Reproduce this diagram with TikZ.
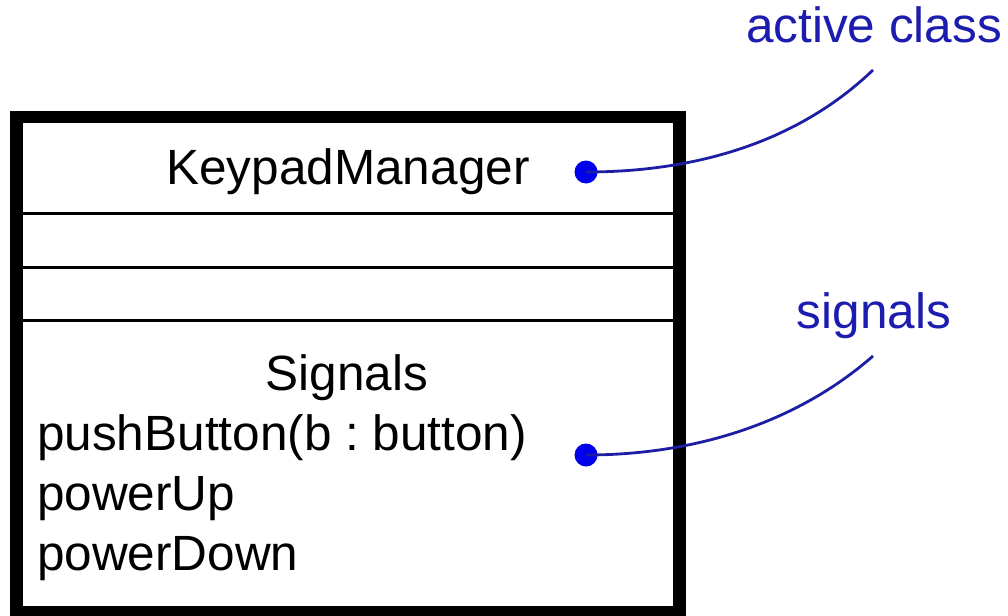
\documentclass[tikz,border=0pt]{standalone}
\usepackage{fontspec}
\setmainfont{Liberation Sans}
\frenchspacing
\definecolor{annot}{RGB}{28,28,175}
\definecolor{dotblue}{RGB}{0,0,235}
\definecolor{curveblue}{RGB}{30,30,165}
\begin{document}
\begin{tikzpicture}[x=1pt,y=-1pt,
  txt/.style={inner sep=0pt,font=\fontsize{49.5}{59}\selectfont},
  ann/.style={txt,text=annot},
  dotmark/.style={circle,fill=dotblue,inner sep=0pt,minimum size=23pt},
  leader/.style={curveblue,line width=2.8pt},
  divider/.style={black,line width=2.6pt}]
\useasboundingbox (0,0) rectangle (1008,615);
\fill[white] (0,0) rectangle (1008,615);
% class box
\draw[line width=12.5pt] (16.3,117) rectangle (679.7,612.5);
\draw[divider] (22.5,213.5) -- (673.5,213.5);
\draw[divider] (22.5,267.5) -- (673.5,267.5);
\draw[divider] (22.5,320.5) -- (673.5,320.5);
% texts
\node[txt,anchor=base] (name) at (348,184) {KeypadManager};
\node[txt,anchor=base] (sig) at (347,390) {Signals};
\node[txt,anchor=base west] (push) at (37,450) {pushButton(b : button)};
\node[txt,anchor=base west] (up) at (37,510) {powerUp};
\node[txt,anchor=base west] (down) at (37,570) {powerDown};
% annotations
\node[ann,anchor=base] (lactive) at (874,43) {active class};
\node[ann,anchor=base] (lsignals) at (874,328) {signals};
\coordinate (e1) at (873,70);
\coordinate (e2) at (873,356);
\node[dotmark] (d1) at (586,172) {};
\node[dotmark] (d2) at (586,455) {};
\draw[leader] (d1.center) .. controls (700,172) and (800,140) .. (e1);
\draw[leader] (d2.center) .. controls (700,455) and (800,420) .. (e2);
\end{tikzpicture}
\end{document}
